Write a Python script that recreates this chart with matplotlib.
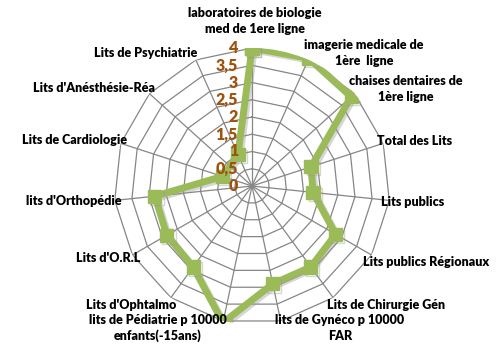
import numpy as np
import matplotlib
matplotlib.use("Agg")
from matplotlib import pyplot as plt
import matplotlib.patheffects as pe

plt.rcParams['font.family'] = ['Lato', 'DejaVu Sans']

# categories, clockwise from the top
categories = [
    "laboratoires de biologie\nmed de 1ere ligne",
    "imagerie medicale de\n1ère  ligne",
    "chaises dentaires de\n1ère ligne",
    "Total des Lits",
    "Lits publics",
    "Lits publics Régionaux",
    "Lits de Chirurgie Gén",
    "lits de Gynéco p 10000\nFAR",
    "lits de Pédiatrie p 10000\nenfants(-15ans)",
    "Lits d'Ophtalmo",
    "Lits d'O.R.L",
    "lits d'Orthopédie",
    "Lits de Cardiologie",
    "Lits d'Anésthésie-Réa",
    "Lits de Psychiatrie",
]
values = [4.0, 4.05, 3.87, 1.8, 1.78, 2.8, 2.9, 2.9, 4.05, 2.9, 2.85, 2.83, 0.9, np.nan, 1.0]
tick_values = [0, 0.5, 1, 1.5, 2, 2.5, 3, 3.5, 4]
tick_labels = ["0", "0,5", "1", "1,5", "2", "2,5", "3", "3,5", "4"]

# label anchor (pixels from top-left) and alignment
label_layout = [
    (255, 21, 'center'), (364, 53, 'center'), (406, 89, 'center'),
    (377, 141, 'left'), (381, 202, 'left'), (363, 262, 'left'),
    (327, 305, 'left'), (340, 328, 'center'), (158, 328, 'center'),
    (176, 305, 'right'), (140, 258, 'right'), (122, 201, 'right'),
    (127, 140, 'right'), (155, 88, 'right'), (197, 53, 'right'),
]

W, H = 501, 345
green = '#9BBB59'
grid_col = '#868686'

n = len(categories)
angles = np.arange(n) * 2 * np.pi / n

fig = plt.figure(figsize=(W / 100, H / 100), dpi=100)
cx, cy, R = 252, 186, 138
ax = fig.add_axes([(cx - R) / W, (H - cy - R) / H, 2 * R / W, 2 * R / H], polar=True)
ax.set_theta_zero_location('N')
ax.set_theta_direction(-1)
ax.set_ylim(0, 4)
ax.spines['polar'].set_visible(False)
ax.grid(False)
ax.set_xticks([])
ax.set_yticks([])
ax.patch.set_alpha(0)

# polygon grid rings and spokes
ring_angles = np.append(angles, angles[0])
for t in tick_values[1:]:
    ax.plot(ring_angles, [t] * len(ring_angles), color=grid_col, lw=0.9, zorder=1)
for a in angles:
    ax.plot([a, a], [0, 4], color=grid_col, lw=0.9, zorder=1)

# data line (blank value skipped, line joins neighbours)
vals = np.array(values)
ok = ~np.isnan(vals)
line_a = np.append(angles[ok], angles[ok][0])
line_v = np.append(vals[ok], vals[ok][0])
ax.plot(line_a, line_v, color=green, lw=5, marker='s', ms=9.5, mfc=green, mec=green,
        solid_joinstyle='miter', zorder=3,
        path_effects=[pe.SimpleLineShadow(offset=(1.5, -1.5), shadow_color='#999999', alpha=0.4),
                      pe.Normal()])

# radial tick labels
for t, lab in zip(tick_values, tick_labels):
    ax.annotate(lab, xy=(0, t), xytext=(-14, 0), textcoords='offset pixels',
                ha='right', va='center', color='#A0520F', fontsize=11.5,
                fontweight='heavy', zorder=5, annotation_clip=False)

for lab, (px, py, ha) in zip(categories, label_layout):
    fig.text(px / W, 1 - py / H, lab, ha=ha, va='center', fontsize=9,
             fontweight='heavy', color='black', linespacing=1.35, multialignment='center')

fig.savefig('out.png', dpi=100)
